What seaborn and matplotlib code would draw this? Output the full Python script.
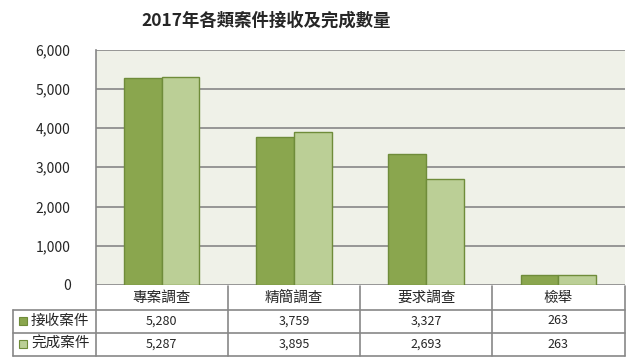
import pandas as pd
import seaborn as sns
import matplotlib.pyplot as plt
import matplotlib.transforms as mtransforms
from matplotlib.patches import Rectangle
from matplotlib.lines import Line2D

# 資料
categories = ['專案調查', '精簡調查', '要求調查', '檢舉']
series_names = ['接收案件', '完成案件']
received = [5280, 3759, 3327, 263]
completed = [5287, 3895, 2693, 263]
yticks = [0, 1000, 2000, 3000, 4000, 5000, 6000]

colors = ['#8AA64E', '#BBCF96']
edge = '#6F8C3A'
grid_c = '#878787'

df = pd.DataFrame({
    '類別': categories * 2,
    '系列': [series_names[0]] * 4 + [series_names[1]] * 4,
    '數量': received + completed,
})

sns.set_style('white')
plt.rcParams['font.family'] = ['Noto Sans CJK TC', 'DejaVu Sans']

W, H = 636, 362
fig = plt.figure(figsize=(W / 100, H / 100), dpi=100)


def fx(px):
    return px / W


def fy(py):
    return 1 - py / H


ax = fig.add_axes([fx(95.5), fy(285), fx(624.5) - fx(95.5), fy(49.5) - fy(285)])
ax.set_facecolor('#EFF1E8')

sns.barplot(data=df, x='類別', y='數量', hue='系列', palette=colors,
            saturation=1, width=0.57, edgecolor=edge, linewidth=1, ax=ax,
            legend=False, zorder=3)

ax.set_xlim(-0.5, 3.5)
ax.set_ylim(0, 6000)
ax.set_yticks(yticks)
ax.set_yticklabels([f'{v:,}' for v in yticks], fontsize=10)
ax.tick_params(axis='y', length=0, pad=18)
ax.set_xticks([])
ax.set_xlabel('')
ax.set_ylabel('')
ax.grid(axis='y', color=grid_c, linewidth=1.2, zorder=0)
for s in ['top', 'right', 'bottom']:
    ax.spines[s].set_visible(False)
ax.spines['left'].set_color(grid_c)
ax.spines['left'].set_linewidth(1.2)

fig.text(fx(266), fy(21), '2017年各類案件接收及完成數量', ha='center', va='center',
         fontsize=12.5, fontweight='bold')

# 資料表
bt = mtransforms.blended_transform_factory(ax.transData, fig.transFigure)
rows = [285.5, 309.5, 332.5, 355.5]
line_kw = dict(color=grid_c, linewidth=1.2)

for y in rows[1:]:
    fig.add_artist(Line2D([fx(13), fx(624.5)], [fy(y), fy(y)],
                          transform=fig.transFigure, **line_kw))
fig.add_artist(Line2D([fx(95.5), fx(95.5)], [fy(rows[0]), fy(rows[-1])],
                      transform=fig.transFigure, **line_kw))
fig.add_artist(Line2D([fx(13), fx(13)], [fy(rows[1]), fy(rows[-1])],
                      transform=fig.transFigure, **line_kw))
for i in range(len(categories)):
    xb = i + 0.5
    fig.add_artist(Line2D([xb, xb], [fy(rows[0]), fy(rows[-1])],
                          transform=bt, **line_kw))

for i, c in enumerate(categories):
    fig.text(i, fy((rows[0] + rows[1]) / 2), c, transform=bt,
             ha='center', va='center', fontsize=10.5)

for r, (name, vals) in enumerate(zip(series_names, [received, completed])):
    yc = (rows[r + 1] + rows[r + 2]) / 2
    fig.add_artist(Rectangle((fx(19), fy(yc + 4)), fx(8), fy(yc - 4) - fy(yc + 4),
                             transform=fig.transFigure, facecolor=colors[r],
                             edgecolor=edge, linewidth=0.8))
    fig.text(fx(31), fy(yc), name, ha='left', va='center', fontsize=10.5)
    for i, v in enumerate(vals):
        fig.text(i, fy(yc), f'{v:,}', transform=bt, ha='center', va='center',
                 fontsize=9)

plt.savefig('out.png', dpi=100)
